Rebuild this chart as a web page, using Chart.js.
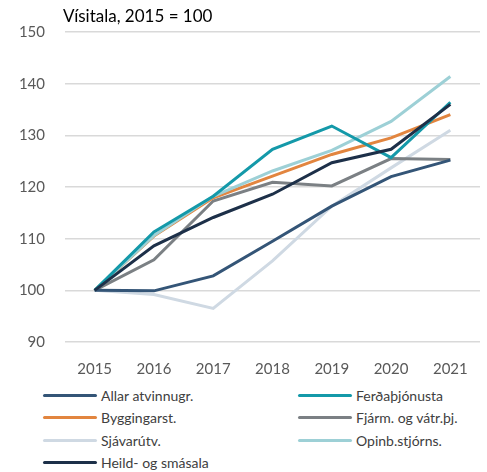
<!DOCTYPE html>
<html>
<head>
<meta charset="utf-8">
<script src="https://cdn.jsdelivr.net/npm/chart.js@4.4.0/dist/chart.umd.min.js"></script>
<style>
    html, body { margin: 0; padding: 0; background: #fff; }
    #wrap { position: relative; width: 487px; height: 472px; font-family: Lato, 'Open Sans', sans-serif; }
    #box { position: absolute; left: 0; top: 0; width: 487px; height: 385px; }
    #legend { position: absolute; left: 43px; top: 387px; width: 440px; }
    .item { position: absolute; display: flex; align-items: center; font-size: 14px; color: #404040; white-space: nowrap; }
    .item span.ln { display: inline-block; width: 54px; height: 3px; border-radius: 2px; margin-right: 4px; }
</style>
</head>
<body>
<div id="wrap">
    <div id="box"><canvas id="chart"></canvas></div>
    <div id="legend"></div>
</div>
<script>
// Data
var years = ['2015', '2016', '2017', '2018', '2019', '2020', '2021'];
var allar = [100, 99.9, 102.8, 109.5, 116.3, 122.0, 125.2];
var ferda = [100, 111.3, 118.2, 127.3, 131.8, 125.7, 136.4];
var bygg = [100, 110.5, 117.9, 122.1, 126.3, 129.5, 134.0];
var fjarm = [100, 105.9, 117.3, 120.9, 120.2, 125.5, 125.3];
var sjavar = [100, 99.2, 96.5, 105.7, 116.3, 123.7, 131.0];
var opinb = [100, 110.6, 118.2, 123.1, 127.1, 132.7, 141.4];
var heild = [100, 108.6, 114.1, 118.6, 124.7, 127.3, 136.0];
var yTicks = [90, 100, 110, 120, 130, 140, 150];

var series = [
    { label: 'Allar atvinnugr.', data: allar, color: '#345577', order: 1 },
    { label: 'Ferðaþjónusta', data: ferda, color: '#1499a9', order: 2 },
    { label: 'Byggingarst.', data: bygg, color: '#e2853f', order: 4 },
    { label: 'Fjárm. og vátr.þj.', data: fjarm, color: '#7b8084', order: 5 },
    { label: 'Sjávarútv.', data: sjavar, color: '#cfd9e3', order: 6 },
    { label: 'Opinb.stjórns.', data: opinb, color: '#9dd0d6', order: 3 },
    { label: 'Heild- og smásala', data: heild, color: '#1d3049', order: 0 }
];

(function () {
    var titlePlugin = {
        id: 'topTitle',
        afterDraw: function (chart) {
            var ctx = chart.ctx;
            ctx.save();
            ctx.font = '17px Lato, sans-serif';
            ctx.fillStyle = '#000';
            ctx.textBaseline = 'middle';
            ctx.fillText('Vísitala, 2015 = 100', chart.chartArea.left - 2, 17);
            ctx.restore();
        }
    };

    var chart = new Chart(document.getElementById('chart'), {
        type: 'line',
        data: {
            labels: years,
            datasets: series.map(function (s) {
                return {
                    label: s.label,
                    data: s.data,
                    borderColor: s.color,
                    backgroundColor: s.color,
                    borderWidth: 3,
                    pointRadius: 0,
                    tension: 0,
                    fill: false,
                    order: s.order
                };
            })
        },
        options: {
            responsive: true,
            maintainAspectRatio: false,
            animation: false,
            layout: { padding: { top: 32, right: 7, left: 0, bottom: 0 } },
            plugins: { legend: { display: false }, tooltip: { enabled: false } },
            scales: {
                x: {
                    offset: true,
                    grid: { display: false },
                    border: { display: false },
                    ticks: { color: '#595959', font: { family: 'Lato', size: 15 }, padding: 10, maxRotation: 0 },
                    afterFit: function (axis) { axis.height = 43; }
                },
                y: {
                    min: 90,
                    max: 150,
                    afterBuildTicks: function (axis) {
                        axis.ticks = yTicks.map(function (v) { return { value: v }; });
                    },
                    grid: { color: '#d9d9d9', lineWidth: 1.5, drawTicks: false },
                    border: { display: false },
                    ticks: { color: '#595959', font: { family: 'Lato', size: 15 }, padding: 20 },
                    afterFit: function (axis) { axis.width = 65; }
                }
            }
        },
        plugins: [titlePlugin]
    });

    // html legend in two columns, built from the chart datasets
    var legend = document.getElementById('legend');
    chart.data.datasets.forEach(function (ds, i) {
        var div = document.createElement('div');
        div.className = 'item';
        div.style.left = (i % 2 === 0 ? 0 : 255) + 'px';
        div.style.top = (Math.floor(i / 2) * 22.3) + 'px';
        div.innerHTML = '<span class="ln" style="background:' + ds.borderColor + '"></span>' + ds.label;
        legend.appendChild(div);
    });
})();
</script>
</body>
</html>
